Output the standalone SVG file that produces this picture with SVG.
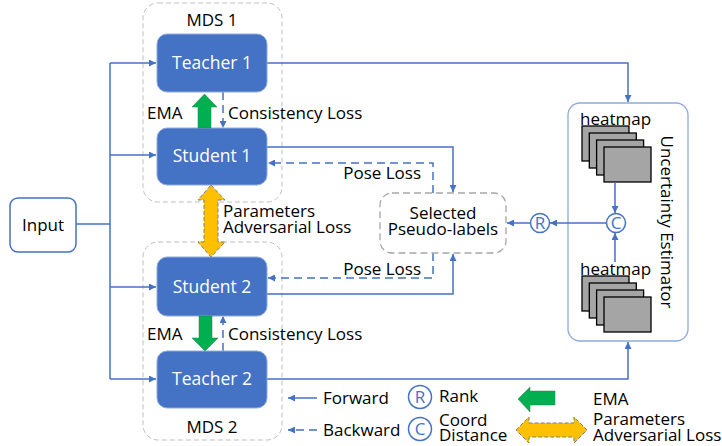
<svg xmlns="http://www.w3.org/2000/svg" width="722" height="446" viewBox="0 0 722 446">
<style>
text{font-family:"Open Sans","Noto Sans","DejaVu Sans",sans-serif;fill:#000;font-size:17px}
.nt{fill:#fff;font-size:17.5px;text-anchor:middle}
.node{fill:#4472C4;stroke:#8FAADC;stroke-width:1}
.grp{fill:none;stroke:#BFBFBF;stroke-width:1;stroke-dasharray:5,3}
.ln{fill:none;stroke:#4472C4;stroke-width:1.5}
.dl{fill:none;stroke:#4472C4;stroke-width:1.5;stroke-dasharray:8,5}
.hm{fill:#A5A5A5;stroke:#000;stroke-width:1.3}
.circ{fill:#fff;stroke:#4472C4;stroke-width:1.5}
.ct{fill:#4472C4;text-anchor:middle}
</style>
<defs>
<marker id="ah" viewBox="0 0 10 10" refX="10" refY="5" markerWidth="7" markerHeight="7" markerUnits="userSpaceOnUse" orient="auto"><path d="M0,0 L10,5 L0,10 z" fill="#4472C4"/></marker>
<g id="stack">
<rect class="hm" x="0" y="0" width="47" height="35"/>
<rect class="hm" x="7.3" y="7" width="47" height="35"/>
<rect class="hm" x="14.6" y="14" width="47" height="35"/>
<rect class="hm" x="22" y="21" width="47" height="35"/>
</g>
</defs>

<g id="mds1">
<rect class="grp" x="143" y="3" width="139" height="199" rx="15"/>
<text x="212" y="26" text-anchor="middle" font-size="17.5">MDS 1</text>
</g>
<g id="mds2">
<rect class="grp" x="143" y="242" width="139" height="198" rx="15"/>
<text x="212" y="433" text-anchor="middle" font-size="17.5">MDS 2</text>
</g>

<g id="uncertainty">
<rect x="568" y="103" width="120" height="238" rx="12" fill="none" stroke="#8FAADC" stroke-width="1.3"/>
<text x="580" y="125">heatmap</text>
<use href="#stack" x="582" y="126"/>
<text x="580" y="275">heatmap</text>
<use href="#stack" x="582" y="276"/>
<text x="661" y="222" text-anchor="middle" transform="rotate(90 661 222)" font-size="18.5">Uncertainty Estimator</text>
</g>

<g id="connectors">
<path class="ln" d="M76,224 H110"/>
<path class="ln" d="M110,63 V379"/>
<path class="ln" d="M110,63 H156" marker-end="url(#ah)"/>
<path class="ln" d="M110,155 H156" marker-end="url(#ah)"/>
<path class="ln" d="M110,287 H156" marker-end="url(#ah)"/>
<path class="ln" d="M110,379 H156" marker-end="url(#ah)"/>
<path class="dl" d="M223,92 V128" marker-end="url(#ah)" stroke-dasharray="6,4"/>
<path class="dl" d="M223,351 V316" marker-end="url(#ah)" stroke-dasharray="6,4"/>
<path class="ln" d="M267,63 H628 V102" marker-end="url(#ah)"/>
<path class="ln" d="M267,379 H628 V342" marker-end="url(#ah)"/>
<path class="ln" d="M267,147 H453 V192" marker-end="url(#ah)"/>
<path class="ln" d="M267,294 H453 V254" marker-end="url(#ah)"/>
<path class="dl" d="M433,193 V163 H268" marker-end="url(#ah)"/>
<path class="dl" d="M433,253 V278 H268" marker-end="url(#ah)"/>
<path class="ln" d="M606,223 H550" marker-end="url(#ah)"/>
<path class="ln" d="M531,223 H507" marker-end="url(#ah)"/>
<path class="ln" d="M615,182 V213" marker-end="url(#ah)"/>
<path class="ln" d="M615,262 V233" marker-end="url(#ah)"/>
</g>

<g id="input">
<rect x="10" y="198" width="66" height="54" rx="8" fill="#fff" stroke="#4472C4" stroke-width="1.5"/>
<text x="43" y="231" text-anchor="middle" font-size="17.5">Input</text>
</g>

<g id="teacher1">
<rect class="node" x="157" y="34" width="110" height="58" rx="10"/>
<text class="nt" x="212" y="69">Teacher 1</text>
</g>
<g id="student1">
<rect class="node" x="157" y="128" width="110" height="57" rx="10"/>
<text class="nt" x="212" y="162">Student 1</text>
</g>
<g id="student2">
<rect class="node" x="157" y="257" width="110" height="59" rx="10"/>
<text class="nt" x="212" y="293">Student 2</text>
</g>
<g id="teacher2">
<rect class="node" x="157" y="351" width="110" height="57" rx="10"/>
<text class="nt" x="212" y="385">Teacher 2</text>
</g>

<g id="ema1">
<polygon points="198,128 198,107 192,107 204.5,94 217,107 211,107 211,128" fill="#00B050" stroke="#2E7D4F" stroke-width="0.5"/>
<text x="147" y="119">EMA</text>
<text x="228" y="119">Consistency Loss</text>
</g>
<g id="ema2">
<polygon points="199,316 212,316 212,338 218,338 205,351 192,338 199,338" fill="#00B050" stroke="#2E7D4F" stroke-width="0.5"/>
<text x="147" y="340">EMA</text>
<text x="228" y="340">Consistency Loss</text>
</g>
<g id="adv">
<polygon points="211,185 225,200 218,200 218,242 225,242 211,257 198,242 204,242 204,200 198,200" fill="#FFC000" stroke="#7F7F7F" stroke-width="1" stroke-dasharray="4,2"/>
<text x="223" y="217">Parameters</text>
<text x="223" y="233">Adversarial Loss</text>
</g>

<g id="poselabels">
<text x="421" y="179" text-anchor="end">Pose Loss</text>
<text x="421" y="275" text-anchor="end">Pose Loss</text>
</g>

<g id="selected">
<rect x="380" y="193" width="126" height="60" rx="12" fill="#fff" stroke="#A6A6A6" stroke-width="1.3" stroke-dasharray="7,4"/>
<text x="443" y="219" text-anchor="middle">Selected</text>
<text x="443" y="235" text-anchor="middle">Pseudo-labels</text>
</g>

<g id="rank">
<circle class="circ" cx="540" cy="223" r="9.5"/>
<text class="ct" x="540" y="228.5" font-size="14">R</text>
</g>
<g id="coord">
<circle class="circ" cx="616" cy="223" r="9.5"/>
<text class="ct" x="616" y="228.5" font-size="14">C</text>
</g>

<g id="legend">
<path class="ln" d="M317,398 H288" marker-end="url(#ah)"/>
<text x="323" y="404">Forward</text>
<path class="dl" d="M317,430 H288" marker-end="url(#ah)" stroke-dasharray="9,6"/>
<text x="323" y="436">Backward</text>
<circle class="circ" cx="420" cy="397" r="11.5"/>
<text class="ct" x="420" y="403" font-size="16">R</text>
<text x="439" y="402">Rank</text>
<circle class="circ" cx="420" cy="429" r="11.5"/>
<text class="ct" x="420" y="435" font-size="16">C</text>
<text x="439" y="426">Coord</text>
<text x="439" y="441">Distance</text>
<polygon points="518,399 530,387 530,391 555,391 555,405 530,405 530,412" fill="#00B050" stroke="#2E7D4F" stroke-width="0.5"/>
<text x="593" y="405">EMA</text>
<polygon points="516,430 529,417 529,423 574,423 574,417 587,430 574,443 574,437 529,437 529,443" fill="#FFC000" stroke="#7F7F7F" stroke-width="1" stroke-dasharray="4,2"/>
<text x="593" y="425">Parameters</text>
<text x="593" y="441">Adversarial Loss</text>
</g>
</svg>
